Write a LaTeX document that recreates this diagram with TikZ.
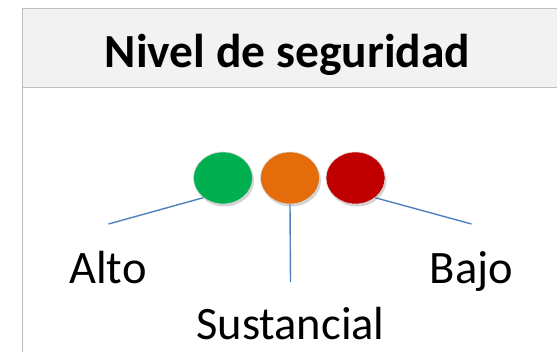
\documentclass[tikz,border=0pt]{standalone}
\usepackage{fontspec}
\setmainfont{Carlito}
\usetikzlibrary{shapes.geometric,shadows}
\definecolor{semgreen}{HTML}{00B050}
\definecolor{semorange}{HTML}{E46C0A}
\definecolor{semred}{HTML}{C00000}
\definecolor{linkblue}{HTML}{4F81BD}
\definecolor{headfill}{HTML}{F2F2F2}
\definecolor{headline}{HTML}{BFBFBF}
\tikzset{
  light/.style={ellipse, draw=white!85!black, line width=0.6pt, minimum width=59pt, minimum height=52pt,
    drop shadow={shadow xshift=1.5pt, shadow yshift=-2.5pt, opacity=0.35}},
  link/.style={draw=linkblue, line width=1.4pt},
  label/.style={anchor=base, font=\fontsize{46.5}{50}\selectfont}
}
\begin{document}
\begin{tikzpicture}[x=1pt,y=-1pt]
	\useasboundingbox (0,0) rectangle (557,351);

	% cabecera
	\node[draw=headline, fill=headfill, line width=1pt, minimum width=540pt, minimum height=79pt, anchor=north west] (head) at (22,8) {};
	\node[anchor=base, font=\bfseries\fontsize{47.5}{50}\selectfont] (title) at (287.5,67) {Nivel de seguridad};
	\draw[headline, line width=1pt] (head.south west) -- (22,360);

	% semaforo
	\node[light, fill=semgreen] (alto) at (223,178) {};
	\node[light, fill=semorange] (sust) at (290,178) {};
	\node[light, fill=semred] (bajo) at (355.5,178) {};

	\coordinate (altoend) at (108.5,224);
	\coordinate (sustend) at (290.5,282);
	\coordinate (bajoend) at (471.5,224);

	\draw[link] (alto.-135) -- (altoend);
	\draw[link] (sust.south) -- (sustend);
	\draw[link] (bajo.-45) -- (bajoend);

	\node[label] (altolbl) at (108,283.6) {Alto};
	\node[label] (bajolbl) at (471.5,283.6) {Bajo};
	\node[label] (sustlbl) at (290.5,339) {Sustancial};
\end{tikzpicture}
\end{document}
